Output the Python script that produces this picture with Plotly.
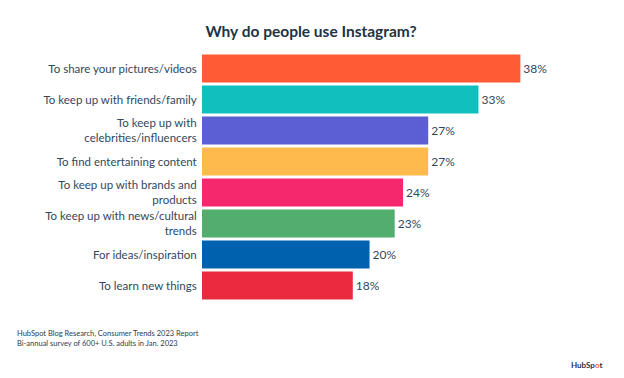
import plotly.graph_objects as go

categories = [
    "To share your pictures/videos",
    "To keep up with friends/family",
    "To keep up with<br>celebrities/influencers",
    "To find entertaining content",
    "To keep up with brands and<br>products",
    "To keep up with news/cultural<br>trends",
    "For ideas/inspiration",
    "To learn new things",
]
values = [38, 33, 27, 27, 24, 23, 20, 18]
colors = ["#FF5C35", "#12BFBF", "#5C5FD3", "#FFBA4D", "#F5286E", "#51AE6E", "#0061AE", "#EA2A3F"]

FONT = "Lato"

fig = go.Figure(go.Bar(
    x=values, y=categories, orientation="h",
    marker=dict(color=colors, line=dict(width=0)),
    text=[f"{v}%" for v in values], textposition="outside",
    textfont=dict(family=FONT, size=12, color="#33475B"),
    cliponaxis=False,
))

# page body adds an 8px offset; figure coordinates = reference coordinates - 8
OFF = 8
W, H = 616, 370
ml, mr, mt, mb = 194, 45, 45, 77
pw, ph = W - ml - mr, H - mt - mb


def px(x):
    return (x - OFF - ml) / pw


def py(y):
    return 1 - (y - OFF - mt) / ph


fig.update_layout(
    width=W, height=H,
    margin=dict(l=ml, r=mr, t=mt, b=mb, autoexpand=False),
    paper_bgcolor="white", plot_bgcolor="white",
    bargap=0.1,
    showlegend=False,
    title=dict(text="<b>Why do people use Instagram?</b>", x=(311 - OFF) / W, xanchor="center",
               y=1 - (32 - OFF) / H, yanchor="middle", xref="container", yref="container",
               font=dict(family=FONT, size=15.5, color="#213343")),
    xaxis=dict(range=[0, 45], visible=False),
    yaxis=dict(autorange="reversed", showgrid=False, zeroline=False, showline=False,
               automargin=False, ticks="outside", ticklen=2, tickcolor="white",
               tickfont=dict(family=FONT, size=11.5, color="#33475B")),
    annotations=[
        dict(text="HubSpot Blog Research, Consumer Trends 2023 Report",
             x=px(15), y=py(333), xref="paper", yref="paper", xanchor="left", yanchor="middle",
             align="left", showarrow=False,
             font=dict(family=FONT, size=7.5, color="#2D3E50")),
        dict(text="Bi-annual survey of 600+ U.S. adults in Jan. 2023",
             x=px(15), y=py(343), xref="paper", yref="paper", xanchor="left", yanchor="middle",
             align="left", showarrow=False,
             font=dict(family=FONT, size=7.5, color="#2D3E50")),
        dict(text="<b>HubSp<span style='color:#FF5C35'>o</span>t</b>", x=px(604), y=py(365),
             xref="paper", yref="paper", xanchor="right", yanchor="middle", showarrow=False,
             font=dict(family=FONT, size=8, color="#213343")),
    ],
)

fig.write_html("out.html")
